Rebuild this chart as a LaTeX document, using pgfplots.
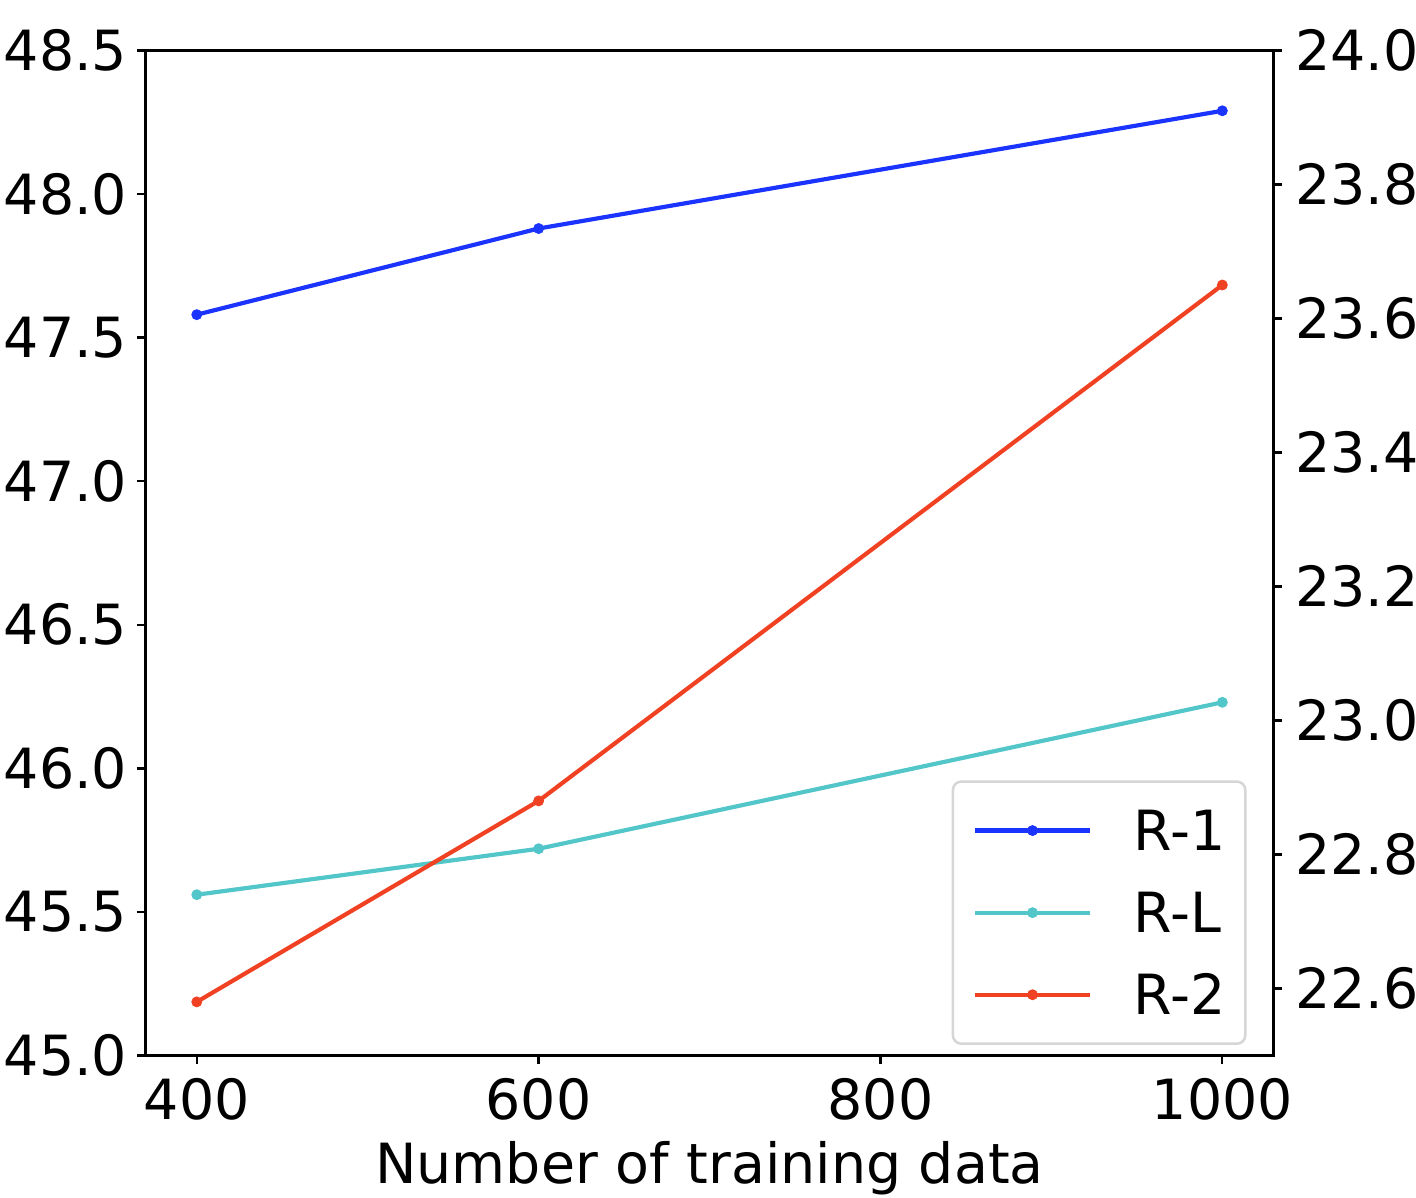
\documentclass[border=0pt]{standalone}
\usepackage{fontspec}
\setmainfont{DejaVu Sans}
\usepackage{pgfplots}
\pgfplotsset{compat=1.18}
\definecolor{cblue}{RGB}{26,51,255}
\definecolor{cteal}{RGB}{82,198,200}
\definecolor{cred}{RGB}{240,66,35}
\definecolor{legendgray}{RGB}{214,214,214}
\newcommand{\bigf}{\fontsize{26.6bp}{32bp}\selectfont}
\pgfplotsset{
  common/.style={
    scale only axis, width=541.5bp, height=482.4bp,
    at={(0,0)}, anchor=south west,
    xmin=370, xmax=1030,
    tick align=outside,
    major tick length=4.1bp,
    every tick/.style={black, line width=1.1bp},
    axis line style={black, line width=1.1bp},
    tick label style={font=\bigf},
    label style={font=\bigf},
    /pgf/number format/assume math mode=true,
    clip=false,
  },
  pl/.style={color=#1, line width=2bp, mark=*, mark size=2.4bp, mark options={solid, line width=0.4bp}},
  legend image code/.code={\draw[mark repeat=2, mark phase=2, #1] plot coordinates {(0bp,0bp) (27.6bp,0bp) (55.2bp,0bp)};},
}
\begin{document}
\begin{tikzpicture}
\path[use as bounding box] (-69.84bp,-68.4bp) rectangle (609.84bp,506.64bp);
\begin{axis}[common,
  ymin=45, ymax=48.5,
  ytick={45,45.5,46,46.5,47,47.5,48,48.5},
  yticklabel style={/pgf/number format/fixed, /pgf/number format/fixed zerofill, /pgf/number format/precision=1, inner xsep=4.5bp},
  ytick pos=left, xtick pos=bottom,
  xtick={400,600,800,1000},
  xticklabel style={/pgf/number format/1000 sep={}, inner ysep=6.5bp},
  xlabel={Number of training data},
  xlabel style={at={(axis description cs:0.5,0)}, anchor=north, inner sep=0pt, yshift=-41bp},
]
\addplot[pl=cblue] coordinates {(400,47.58) (600,47.88) (1000,48.29)};
\addplot[pl=cteal] coordinates {(400,45.56) (600,45.72) (1000,46.23)};
\end{axis}
\begin{axis}[common,
  ymin=22.5, ymax=24.0,
  ytick={22.6,22.8,23.0,23.2,23.4,23.6,23.8,24.0},
  yticklabel style={/pgf/number format/fixed, /pgf/number format/fixed zerofill, /pgf/number format/precision=1, inner xsep=6bp},
  ytick pos=right, yticklabel pos=right,
  hide x axis,
  legend cell align=left,
  legend style={at={(rel axis cs:0.976,0.0105)}, anchor=south east,
    draw=legendgray, line width=1.2bp, rounded corners=4bp,
    inner xsep=9.6bp, inner ysep=11.3bp, row sep=15bp, column sep=20bp,
    font=\bigf,
    nodes={inner sep=0pt, text height=21.9bp, text depth=2.5bp}},
]
\addlegendimage{pl=cblue}
\addlegendimage{pl=cteal}
\addplot[pl=cred] coordinates {(400,22.58) (600,22.88) (1000,23.65)};
\legend{R-1,R-L,R-2}
\end{axis}
\end{tikzpicture}
\end{document}
